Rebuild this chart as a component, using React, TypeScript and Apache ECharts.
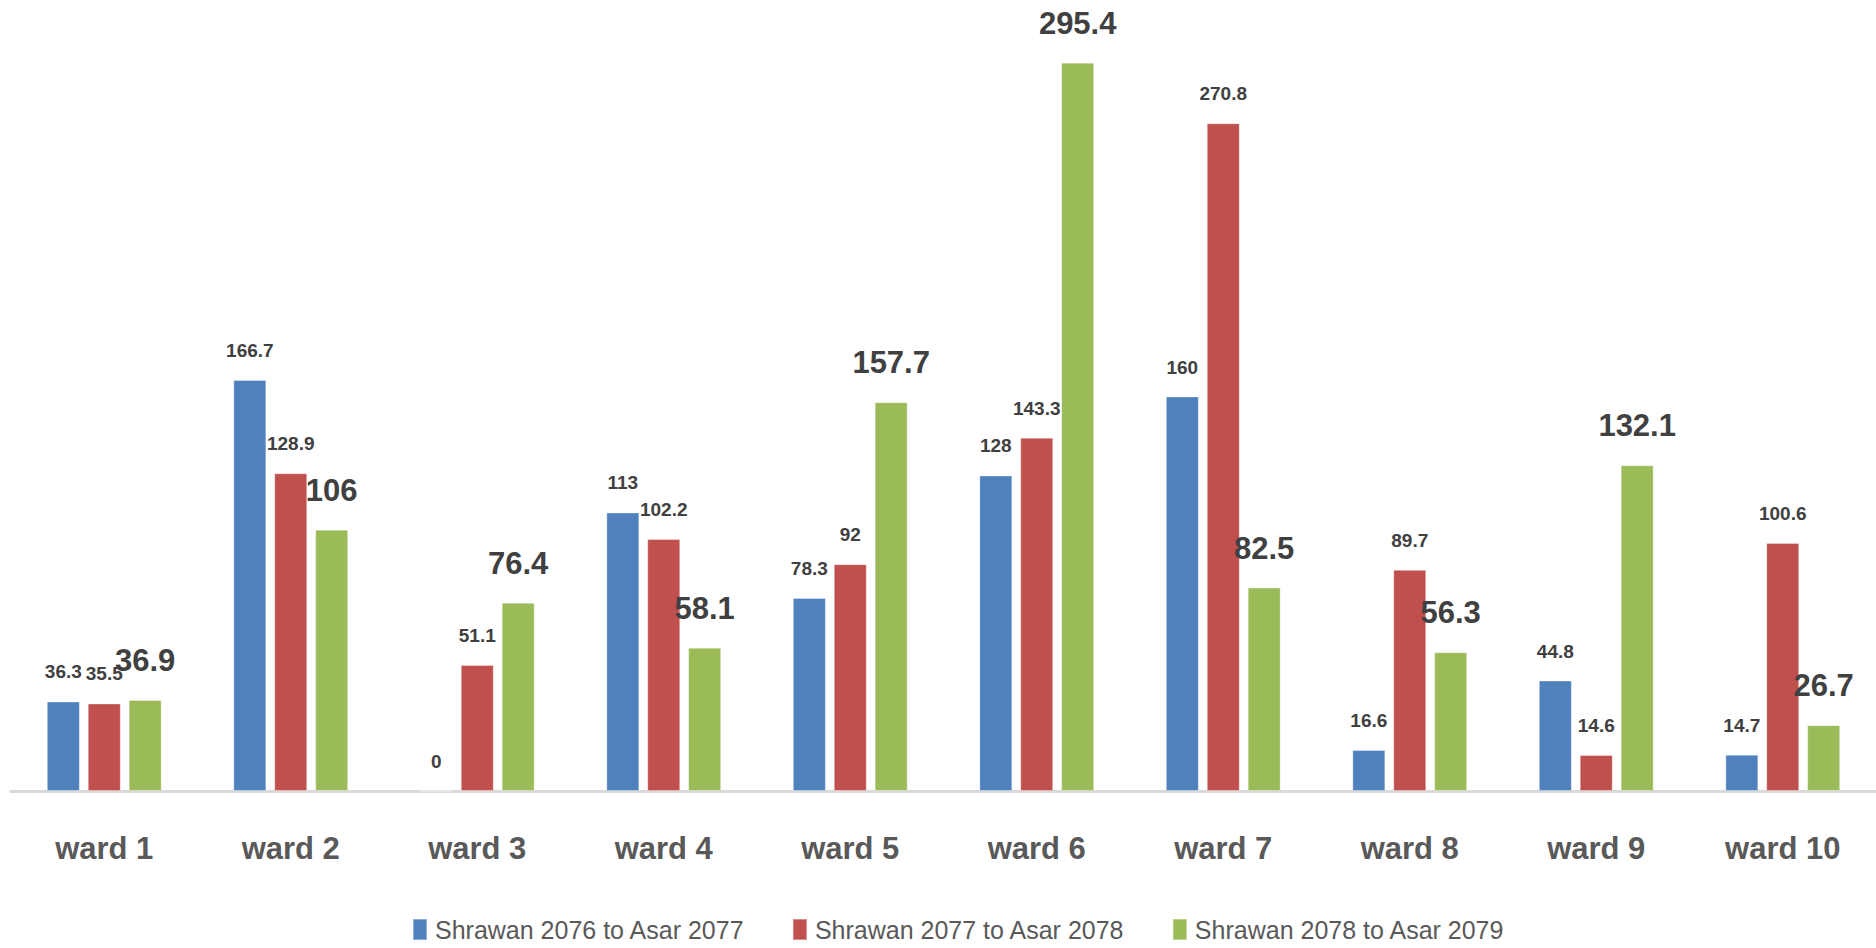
import React, { useEffect, useRef } from "react";
import * as echarts from "echarts";

const categories = ["ward 1", "ward 2", "ward 3", "ward 4", "ward 5", "ward 6", "ward 7", "ward 8", "ward 9", "ward 10"];
const seriesNames = ["Shrawan 2076 to Asar 2077", "Shrawan 2077 to Asar 2078", "Shrawan 2078 to Asar 2079"];
const s2077 = [36.3, 166.7, 0, 113, 78.3, 128, 160, 16.6, 44.8, 14.7];
const s2078 = [35.5, 128.9, 51.1, 102.2, 92, 143.3, 270.8, 89.7, 14.6, 100.6];
const s2079 = [36.9, 106, 76.4, 58.1, 157.7, 295.4, 82.5, 56.3, 132.1, 26.7];
const colors = ["#4F81BD", "#C0504D", "#9BBB59"];

const FONT = "'Liberation Sans', Arial, sans-serif";

export default function App() {
  const ref = useRef<HTMLDivElement>(null);
  useEffect(() => {
    if (!ref.current) return;
    const chart = echarts.init(ref.current, undefined, { renderer: "svg" });
    const mk = (name: string, data: number[], color: string, big: boolean) => ({
      name,
      type: "bar",
      data,
      barWidth: 33,
      barGap: "24%",
      itemStyle: { color, borderColor: "rgba(255,255,255,0.35)", borderWidth: 1 },
      label: {
        show: true,
        position: "top",
        distance: big ? 24 : 20,
        fontFamily: FONT,
        fontWeight: "bold",
        fontSize: big ? 31 : 19,
        color: "#404040",
      },
    });
    chart.setOption({
      animation: false,
      backgroundColor: "#ffffff",
      textStyle: { fontFamily: FONT },
      grid: { left: 11, right: -5, top: 2, bottom: 157, containLabel: false },
      xAxis: {
        type: "category",
        data: categories,
        axisLine: { show: true, lineStyle: { color: "#d9d9d9", width: 3 } },
        axisTick: { show: false },
        axisLabel: {
          interval: 0,
          margin: 42,
          fontFamily: FONT,
          fontWeight: "bold",
          fontSize: 31,
          color: "#595959",
        },
      },
      yAxis: {
        type: "value",
        min: 0,
        max: 320,
        show: false,
        splitLine: { show: false },
      },
      legend: {
        data: seriesNames,
        left: 407,
        top: 912,
        itemWidth: 14,
        itemHeight: 21,
        itemGap: 47,
        icon: "rect",
        textStyle: {
          fontFamily: FONT,
          fontSize: 25,
          color: "#595959",
          padding: [0, 0, 0, 3],
        },
      },
      series: [
        mk(seriesNames[0], s2077, colors[0], false),
        mk(seriesNames[1], s2078, colors[1], false),
        mk(seriesNames[2], s2079, colors[2], true),
      ],
    });
    return () => chart.dispose();
  }, []);
  return (
    <div
      ref={ref}
      style={{ position: "absolute", left: 0, top: 0, width: 1876, height: 948, background: "#fff" }}
    />
  );
}
